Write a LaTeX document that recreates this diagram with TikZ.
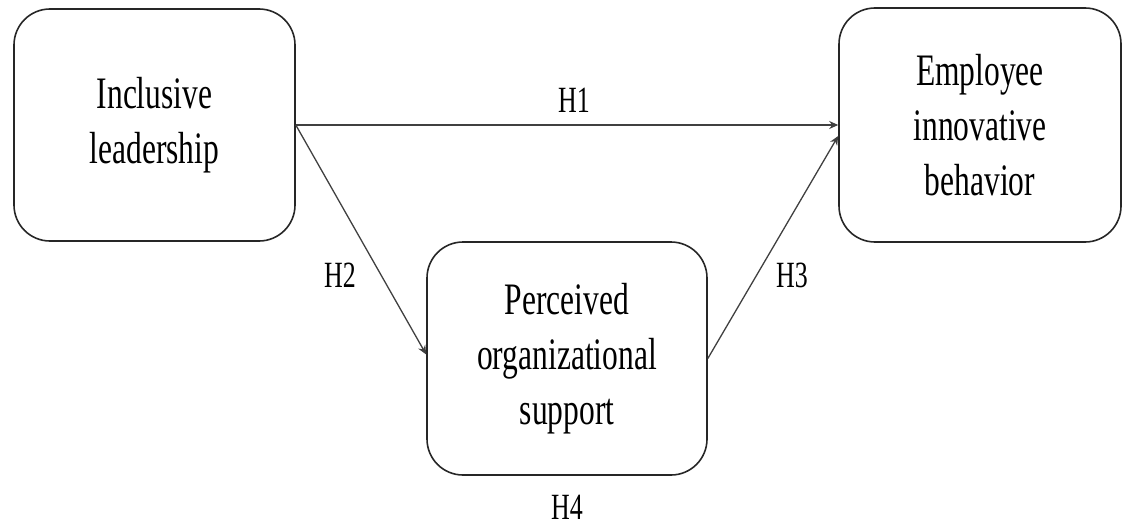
\documentclass[tikz,border=0pt]{standalone}
\usepackage{fontspec}
\setmainfont[FakeStretch=0.7]{Liberation Serif}
\usetikzlibrary{arrows.meta,calc}
\begin{document}
\begin{tikzpicture}[x=1pt,y=-1pt,
  box/.style={draw=black!85, line width=1.6pt, rounded corners=36pt, align=center,
    font=\fontsize{45}{55}\selectfont, inner sep=0pt},
  lbl/.style={font=\fontsize{37}{40}\selectfont, inner sep=0pt},
  conn/.style={draw=black!75, line width=1.3pt, -{Stealth[length=9pt,width=8pt]}}]
\useasboundingbox (0,0) rectangle (1123,527);
\node[box, minimum width=281pt, minimum height=232pt] (b1) at (154.5,125) {Inclusive\\leadership};
\node[box, minimum width=282pt, minimum height=234pt] (b2) at (980,125) {Employee\\innovative\\behavior};
\node[box, minimum width=280pt, minimum height=233pt] (b3) at (567,358.5) {Perceived\\organizational\\support};
\coordinate (e2) at ($(b2.west)+(0,11)$);
\coordinate (w3) at ($(b3.west)+(0,-4)$);
\draw[conn] (b1.east) -- (b2.west);
\draw[conn] (b1.east) -- (w3);
\draw[conn] (b3.east) -- (e2);
\node[lbl] (h1) at (574,100) {H1};
\node[lbl] (h2) at (340,275) {H2};
\node[lbl] (h3) at (792,275) {H3};
\node[lbl] (h4) at (567,507) {H4};
\end{tikzpicture}
\end{document}
